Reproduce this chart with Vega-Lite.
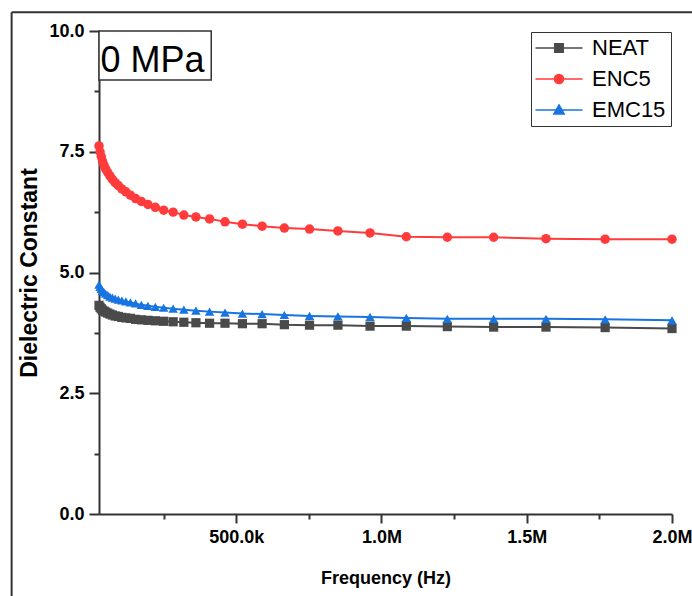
{
  "$schema": "https://vega.github.io/schema/vega-lite/v6.json",
  "width": 573,
  "height": 483,
  "autosize": {"type": "none"},
  "padding": {"left": 99, "top": 31, "right": 20, "bottom": 82},
  "background": "white",
  "config": {"view": {"stroke": null}},
  "datasets": {
    "main": [
      {"f": 27750, "series": "NEAT", "v": 4.32}, {"f": 31360, "series": "NEAT", "v": 4.28}, {"f": 35440, "series": "NEAT", "v": 4.25}, {"f": 40040, "series": "NEAT", "v": 4.22}, {"f": 45250, "series": "NEAT", "v": 4.20}, {"f": 51130, "series": "NEAT", "v": 4.18}, {"f": 57780, "series": "NEAT", "v": 4.16}, {"f": 65290, "series": "NEAT", "v": 4.14}, {"f": 73780, "series": "NEAT", "v": 4.12}, {"f": 83370, "series": "NEAT", "v": 4.10}, {"f": 94210, "series": "NEAT", "v": 4.09}, {"f": 106450, "series": "NEAT", "v": 4.07}, {"f": 120290, "series": "NEAT", "v": 4.06}, {"f": 135930, "series": "NEAT", "v": 4.05}, {"f": 153600, "series": "NEAT", "v": 4.03}, {"f": 173570, "series": "NEAT", "v": 4.02}, {"f": 196130, "series": "NEAT", "v": 4.01}, {"f": 221630, "series": "NEAT", "v": 4.00}, {"f": 250440, "series": "NEAT", "v": 3.99}, {"f": 283000, "series": "NEAT", "v": 3.98}, {"f": 319790, "series": "NEAT", "v": 3.97}, {"f": 361360, "series": "NEAT", "v": 3.96}, {"f": 408340, "series": "NEAT", "v": 3.95}, {"f": 461420, "series": "NEAT", "v": 3.95}, {"f": 521400, "series": "NEAT", "v": 3.94}, {"f": 589190, "series": "NEAT", "v": 3.94}, {"f": 665780, "series": "NEAT", "v": 3.92}, {"f": 752330, "series": "NEAT", "v": 3.91}, {"f": 850130, "series": "NEAT", "v": 3.91}, {"f": 960640, "series": "NEAT", "v": 3.89}, {"f": 1085520, "series": "NEAT", "v": 3.89}, {"f": 1226640, "series": "NEAT", "v": 3.88}, {"f": 1386100, "series": "NEAT", "v": 3.87}, {"f": 1566290, "series": "NEAT", "v": 3.87}, {"f": 1769910, "series": "NEAT", "v": 3.86}, {"f": 2000000, "series": "NEAT", "v": 3.84},
      {"f": 27750, "series": "ENC5", "v": 7.62}, {"f": 31360, "series": "ENC5", "v": 7.50}, {"f": 35440, "series": "ENC5", "v": 7.40}, {"f": 40040, "series": "ENC5", "v": 7.30}, {"f": 45250, "series": "ENC5", "v": 7.22}, {"f": 51130, "series": "ENC5", "v": 7.14}, {"f": 57780, "series": "ENC5", "v": 7.07}, {"f": 65290, "series": "ENC5", "v": 7.00}, {"f": 73780, "series": "ENC5", "v": 6.93}, {"f": 83370, "series": "ENC5", "v": 6.86}, {"f": 94210, "series": "ENC5", "v": 6.80}, {"f": 106450, "series": "ENC5", "v": 6.73}, {"f": 120290, "series": "ENC5", "v": 6.67}, {"f": 135930, "series": "ENC5", "v": 6.60}, {"f": 153600, "series": "ENC5", "v": 6.53}, {"f": 173570, "series": "ENC5", "v": 6.47}, {"f": 196130, "series": "ENC5", "v": 6.41}, {"f": 221630, "series": "ENC5", "v": 6.35}, {"f": 250440, "series": "ENC5", "v": 6.29}, {"f": 283000, "series": "ENC5", "v": 6.25}, {"f": 319790, "series": "ENC5", "v": 6.19}, {"f": 361360, "series": "ENC5", "v": 6.15}, {"f": 408340, "series": "ENC5", "v": 6.11}, {"f": 461420, "series": "ENC5", "v": 6.05}, {"f": 521400, "series": "ENC5", "v": 6.00}, {"f": 589190, "series": "ENC5", "v": 5.96}, {"f": 665780, "series": "ENC5", "v": 5.92}, {"f": 752330, "series": "ENC5", "v": 5.90}, {"f": 850130, "series": "ENC5", "v": 5.86}, {"f": 960640, "series": "ENC5", "v": 5.82}, {"f": 1085520, "series": "ENC5", "v": 5.74}, {"f": 1226640, "series": "ENC5", "v": 5.73}, {"f": 1386100, "series": "ENC5", "v": 5.73}, {"f": 1566290, "series": "ENC5", "v": 5.70}, {"f": 1769910, "series": "ENC5", "v": 5.69}, {"f": 2000000, "series": "ENC5", "v": 5.69},
      {"f": 27750, "series": "EMC15", "v": 4.75}, {"f": 31360, "series": "EMC15", "v": 4.70}, {"f": 35440, "series": "EMC15", "v": 4.66}, {"f": 40040, "series": "EMC15", "v": 4.62}, {"f": 45250, "series": "EMC15", "v": 4.59}, {"f": 51130, "series": "EMC15", "v": 4.56}, {"f": 57780, "series": "EMC15", "v": 4.53}, {"f": 65290, "series": "EMC15", "v": 4.50}, {"f": 73780, "series": "EMC15", "v": 4.48}, {"f": 83370, "series": "EMC15", "v": 4.46}, {"f": 94210, "series": "EMC15", "v": 4.44}, {"f": 106450, "series": "EMC15", "v": 4.42}, {"f": 120290, "series": "EMC15", "v": 4.40}, {"f": 135930, "series": "EMC15", "v": 4.38}, {"f": 153600, "series": "EMC15", "v": 4.36}, {"f": 173570, "series": "EMC15", "v": 4.33}, {"f": 196130, "series": "EMC15", "v": 4.31}, {"f": 221630, "series": "EMC15", "v": 4.29}, {"f": 250440, "series": "EMC15", "v": 4.27}, {"f": 283000, "series": "EMC15", "v": 4.25}, {"f": 319790, "series": "EMC15", "v": 4.23}, {"f": 361360, "series": "EMC15", "v": 4.21}, {"f": 408340, "series": "EMC15", "v": 4.19}, {"f": 461420, "series": "EMC15", "v": 4.17}, {"f": 521400, "series": "EMC15", "v": 4.15}, {"f": 589190, "series": "EMC15", "v": 4.14}, {"f": 665780, "series": "EMC15", "v": 4.12}, {"f": 752330, "series": "EMC15", "v": 4.10}, {"f": 850130, "series": "EMC15", "v": 4.09}, {"f": 960640, "series": "EMC15", "v": 4.08}, {"f": 1085520, "series": "EMC15", "v": 4.06}, {"f": 1226640, "series": "EMC15", "v": 4.04}, {"f": 1386100, "series": "EMC15", "v": 4.04}, {"f": 1566290, "series": "EMC15", "v": 4.04}, {"f": 1769910, "series": "EMC15", "v": 4.03}, {"f": 2000000, "series": "EMC15", "v": 4.01}
    ],
    "frame": [
      {"x": -273000, "x2": -273000, "y": -2, "y2": 10.39},
      {"x": -273000, "x2": 2600000, "y": 10.39, "y2": 10.39}
    ],
    "note": [
      {"label": "0 MPa", "x1": 27750, "x2": 414000, "y1": 8.985, "y2": 10, "tx": 212000, "ty": 9.15}
    ]
  },
  "layer": [
    {
      "data": {"name": "main"},
      "mark": {"type": "line", "strokeWidth": 2},
      "encoding": {
        "x": {
          "field": "f", "type": "quantitative",
          "scale": {"domain": [27750, 2000000], "nice": false, "zero": false},
          "axis": {
            "title": "Frequency (Hz)",
            "values": [250000, 500000, 750000, 1000000, 1250000, 1500000, 1750000, 2000000],
            "labelExpr": "datum.value % 500000 === 0 ? (datum.value === 500000 ? '500.0k' : format(datum.value / 1000000, '.1f') + 'M') : ''",
            "tickSize": {"condition": {"test": "datum.value % 500000 === 0", "value": 9}, "value": 5},
            "tickWidth": 2, "tickColor": "#333333",
            "domainColor": "#333333", "domainWidth": 2,
            "grid": false, "labelFlush": false, "labelOverlap": false,
            "labelFont": "Liberation Sans", "labelFontWeight": "bold", "labelFontSize": 18, "labelColor": "black", "labelPadding": 5,
            "titleFont": "Liberation Sans", "titleFontWeight": "bold", "titleFontSize": 18, "titleColor": "black", "titlePadding": 23
          }
        },
        "y": {
          "field": "v", "type": "quantitative",
          "scale": {"domain": [0, 10], "nice": false, "zero": false},
          "axis": {
            "title": "Dielectric Constant",
            "values": [0, 1.25, 2.5, 3.75, 5, 6.25, 7.5, 8.75, 10],
            "labelExpr": "datum.value % 2.5 === 0 ? format(datum.value, '.1f') : ''",
            "tickSize": {"condition": {"test": "datum.value % 2.5 === 0", "value": 10}, "value": 5},
            "tickWidth": 2, "tickColor": "#333333",
            "domainColor": "#333333", "domainWidth": 2,
            "grid": false, "labelFlush": false, "labelOverlap": false,
            "labelFont": "Liberation Sans", "labelFontWeight": "bold", "labelFontSize": 18, "labelColor": "black", "labelPadding": 5,
            "titleFont": "Liberation Sans", "titleFontWeight": "bold", "titleFontSize": 23, "titleColor": "black", "titlePadding": 7
          }
        },
        "color": {
          "field": "series", "type": "nominal",
          "scale": {"domain": ["NEAT", "ENC5", "EMC15"], "range": ["#4a4a4a", "#ff3b3b", "#1874e0"]},
          "legend": {
            "orient": "none", "legendX": 432, "legendY": 1,
            "title": null,
            "strokeColor": "#333333", "fillColor": "white",
            "padding": 5,
            "symbolSize": 400, "symbolOffset": 12, "labelOffset": 22,
            "labelFont": "Liberation Sans", "labelFontSize": 22, "labelColor": "black",
            "rowPadding": 9,
            "encode": {
              "symbols": {
                "update": {
                  "shape": {"signal": "datum.value === 'NEAT' ? 'M-2.35,0H2.35M-0.42,-0.42H0.42V0.42H-0.42Z' : (datum.value === 'ENC5' ? 'M-2.35,0H2.35M-0.46,0A0.46,0.46 0 1,1 0.46,0A0.46,0.46 0 1,1 -0.46,0Z' : 'M-2.35,0H2.35M0,-0.5L0.52,0.4H-0.52Z')"},
                  "stroke": {"scale": "color", "field": "value"},
                  "fill": {"scale": "color", "field": "value"},
                  "strokeWidth": {"value": 1.5},
                  "opacity": {"value": 1}
                }
              }
            }
          }
        },
        "detail": {"field": "series"}
      }
    },
    {
      "data": {"name": "frame"},
      "mark": {"type": "rule", "color": "#333333", "strokeWidth": 2},
      "encoding": {
        "x": {"field": "x", "type": "quantitative", "scale": {"domain": [27750, 2000000], "nice": false, "zero": false}},
        "x2": {"field": "x2"},
        "y": {"field": "y", "type": "quantitative", "scale": {"domain": [0, 10], "nice": false, "zero": false}},
        "y2": {"field": "y2"}
      }
    },
    {
      "data": {"name": "main"},
      "transform": [{"filter": {"field": "series", "equal": "NEAT"}}],
      "mark": {"type": "point", "shape": "square", "filled": true, "opacity": 1, "size": 85, "color": "#4a4a4a"},
      "encoding": {
        "x": {"field": "f", "type": "quantitative", "scale": {"domain": [27750, 2000000], "nice": false, "zero": false}},
        "y": {"field": "v", "type": "quantitative", "scale": {"domain": [0, 10], "nice": false, "zero": false}}
      }
    },
    {
      "data": {"name": "main"},
      "transform": [{"filter": {"field": "series", "equal": "ENC5"}}],
      "mark": {"type": "point", "shape": "circle", "filled": true, "opacity": 1, "size": 90, "color": "#ff3b3b"},
      "encoding": {
        "x": {"field": "f", "type": "quantitative", "scale": {"domain": [27750, 2000000], "nice": false, "zero": false}},
        "y": {"field": "v", "type": "quantitative", "scale": {"domain": [0, 10], "nice": false, "zero": false}}
      }
    },
    {
      "data": {"name": "main"},
      "transform": [{"filter": {"field": "series", "equal": "EMC15"}}],
      "mark": {"type": "point", "shape": "triangle-up", "filled": true, "opacity": 1, "size": 90, "color": "#1874e0"},
      "encoding": {
        "x": {"field": "f", "type": "quantitative", "scale": {"domain": [27750, 2000000], "nice": false, "zero": false}},
        "y": {"field": "v", "type": "quantitative", "scale": {"domain": [0, 10], "nice": false, "zero": false}}
      }
    },
    {
      "data": {"name": "note"},
      "mark": {"type": "rect", "fill": "white", "stroke": "#333333", "strokeWidth": 1.5},
      "encoding": {
        "x": {"field": "x1", "type": "quantitative", "scale": {"domain": [27750, 2000000], "nice": false, "zero": false}},
        "x2": {"field": "x2"},
        "y": {"field": "y1", "type": "quantitative", "scale": {"domain": [0, 10], "nice": false, "zero": false}},
        "y2": {"field": "y2"}
      }
    },
    {
      "data": {"name": "note"},
      "mark": {"type": "text", "font": "Liberation Sans", "fontSize": 36, "color": "black", "align": "center", "baseline": "alphabetic"},
      "encoding": {
        "x": {"field": "tx", "type": "quantitative", "scale": {"domain": [27750, 2000000], "nice": false, "zero": false}},
        "y": {"field": "ty", "type": "quantitative", "scale": {"domain": [0, 10], "nice": false, "zero": false}},
        "text": {"field": "label"}
      }
    }
  ]
}
